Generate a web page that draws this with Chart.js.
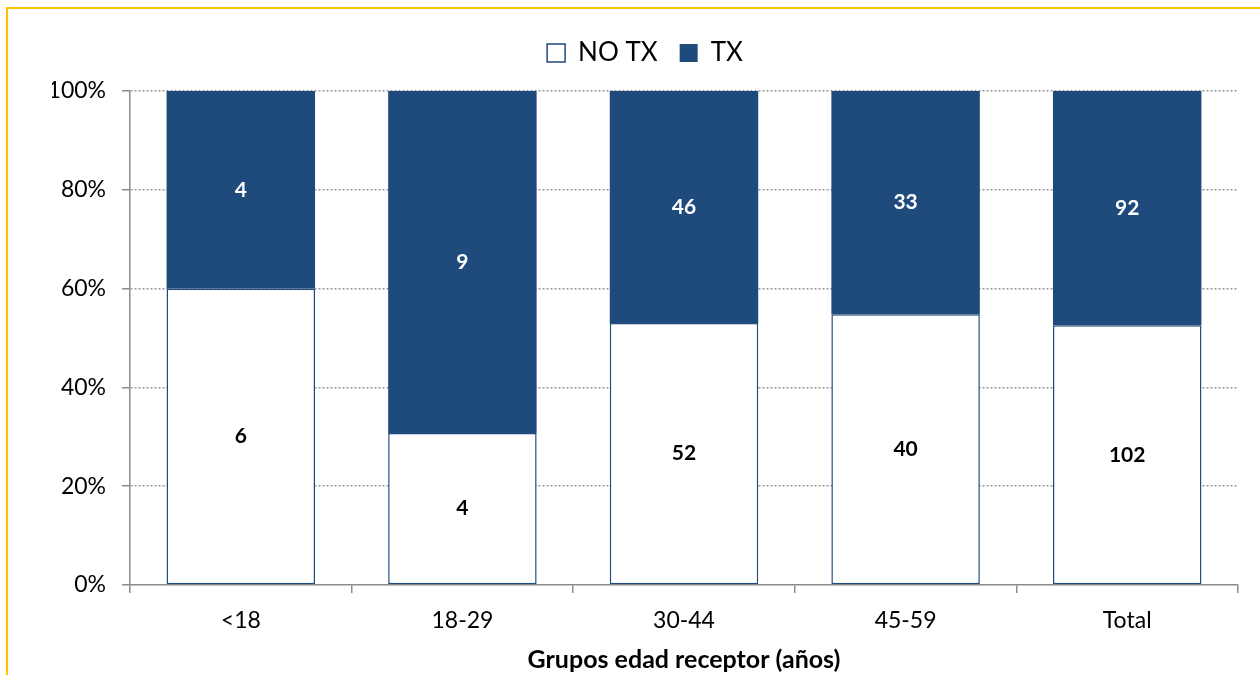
<!DOCTYPE html>
<html>
<head>
<meta charset="utf-8">
<script src="https://cdn.jsdelivr.net/npm/chart.js@4"></script>
<style>
  body { margin: 0; background: #fff; }
  .marco {
    position: absolute; left: 6px; top: 7px; right: 0; bottom: 0;
    border-top: 2px solid #FFC000; border-left: 2px solid #FFC000;
  }
  #grafico { position: absolute; left: 0; top: 0; }
</style>
</head>
<body>
<div class="marco"></div>
<canvas id="grafico" width="1260" height="675"></canvas>
<script>
const grupos = ['<18', '18-29', '30-44', '45-59', 'Total'];
const noTx = [6, 4, 52, 40, 102];
const tx = [4, 9, 46, 33, 92];
const ticksY = [0, 20, 40, 60, 80, 100];

const azul = '#1F4A7C';
const fuente = 'Lato, "Liberation Sans", sans-serif';

// porcentaje de cada grupo sobre el total del grupo
const pct = (arr) => arr.map((v, i) => v / (noTx[i] + tx[i]) * 100);

// etiquetas con el numero de casos en el centro de cada tramo
const etiquetas = {
    id: 'etiquetas',
    afterDatasetsDraw(chart) {
        const ctx = chart.ctx;
        ctx.save();
        ctx.font = 'bold 21px ' + fuente;
        ctx.textAlign = 'center';
        ctx.textBaseline = 'middle';
        chart.data.datasets.forEach((ds, di) => {
            const meta = chart.getDatasetMeta(di);
            meta.data.forEach((bar, i) => {
                ctx.fillStyle = di === 0 ? '#000' : '#fff';
                ctx.fillText(ds.cuentas[i], bar.x, (bar.y + bar.base) / 2);
            });
        });
        ctx.restore();
    }
};

new Chart(document.getElementById('grafico'), {
    type: 'bar',
    data: {
        labels: grupos,
        datasets: [{
            label: 'NO TX',
            data: pct(noTx),
            cuentas: noTx,
            backgroundColor: '#fff',
            borderColor: azul,
            borderWidth: 1.5,
            borderSkipped: false
        }, {
            label: 'TX',
            data: pct(tx),
            cuentas: tx,
            backgroundColor: azul,
            borderWidth: 0
        }]
    },
    options: {
        responsive: false,
        animation: false,
        layout: { padding: { left: 52, right: 22, top: 18, bottom: 0 } },
        datasets: { bar: { barPercentage: 0.67, categoryPercentage: 1 } },
        plugins: {
            tooltip: { enabled: false },
            legend: {
                labels: {
                    color: '#000',
                    font: { family: fuente, size: 26 },
                    boxWidth: 18,
                    boxHeight: 18,
                    padding: 22
                }
            },
            // hueco vacio entre la leyenda y el grafico
            subtitle: {
                display: true,
                text: '',
                weight: 500,
                font: { size: 10, lineHeight: 1 },
                padding: { top: 0, bottom: 5 }
            }
        },
        scales: {
            x: {
                stacked: true,
                grid: { drawOnChartArea: false, offset: true, tickLength: 8, color: '#8C8C8C', lineWidth: 1.5 },
                border: { color: '#8C8C8C', width: 1.5 },
                ticks: { color: '#000', font: { family: fuente, size: 23 }, padding: 14 },
                title: {
                    display: true,
                    text: 'Grupos edad receptor (años)',
                    color: '#000',
                    font: { family: fuente, size: 25, weight: 'bold' },
                    padding: { top: 2, bottom: 0 }
                },
                afterFit(scale) { scale.height = 90; }
            },
            y: {
                stacked: true,
                min: 0,
                max: 100,
                afterBuildTicks(scale) { scale.ticks = ticksY.map(v => ({ value: v })); },
                grid: {
                    color: (c) => c.tick && c.tick.value === 0 ? 'rgba(0,0,0,0)' : '#999999',
                    tickColor: '#8C8C8C',
                    tickBorderDash: [],
                    tickLength: 8,
                    lineWidth: 1.5
                },
                border: { color: '#8C8C8C', width: 1.5, dash: [2, 2] },
                ticks: {
                    color: '#000',
                    font: { family: fuente, size: 23 },
                    padding: 16,
                    callback: (v) => v + '%'
                },
                afterFit(scale) { scale.width = 78; }
            }
        }
    },
    plugins: [etiquetas]
});
</script>
</body>
</html>
